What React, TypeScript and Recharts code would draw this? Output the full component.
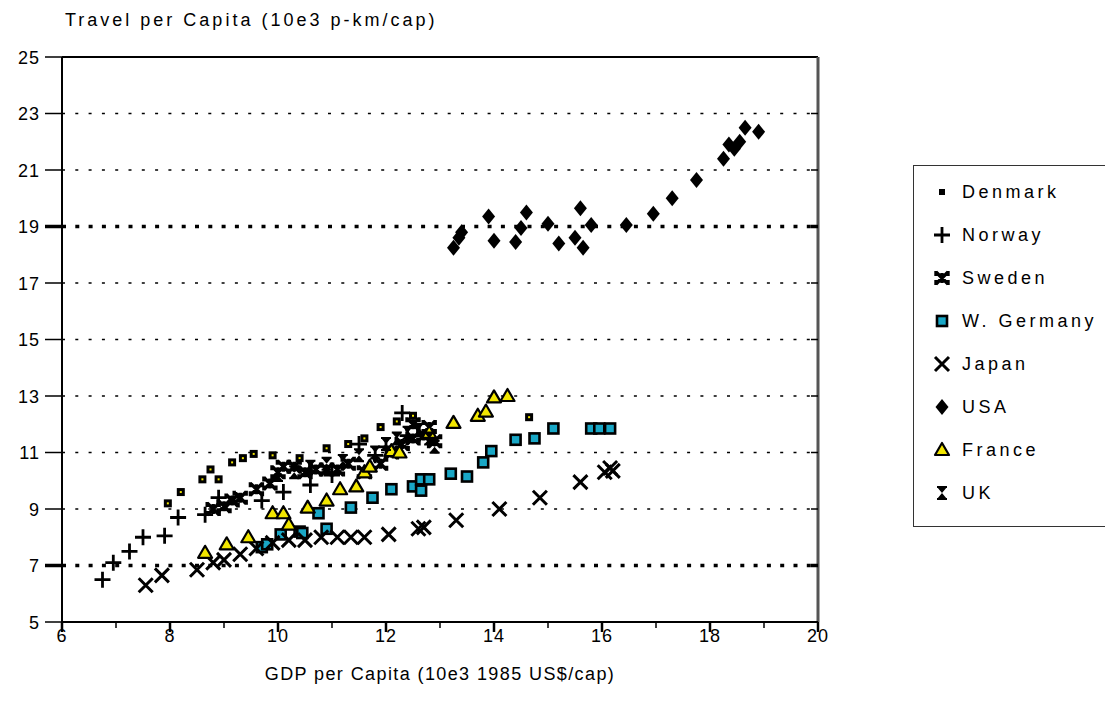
import React from 'react';
import { ScatterChart, Scatter, XAxis, YAxis, ReferenceLine } from 'recharts';

type P = { gdp: number; travel: number };
const mk = (pairs: number[][]): P[] => pairs.map(([gdp, travel]) => ({ gdp, travel }));

const denmark = mk([
  [7.96, 9.2], [8.2, 9.6], [8.6, 10.05], [8.75, 10.4], [8.9, 10.05], [9.15, 10.65], [9.35, 10.8],
  [9.55, 10.95], [9.9, 10.9], [10.4, 10.8], [10.9, 11.15], [11.3, 11.3], [11.6, 11.5], [11.9, 11.9],
  [12.2, 12.1], [12.5, 12.3], [14.65, 12.25],
]);
const norway = mk([
  [6.75, 6.5], [6.95, 7.1], [7.25, 7.5], [7.5, 8.0], [7.9, 8.05], [8.15, 8.7], [8.65, 8.8], [8.9, 9.4],
  [9.7, 9.3], [10.1, 9.6], [10.6, 9.85], [11.0, 10.2], [11.5, 11.3], [11.8, 10.9], [12.0, 11.2],
  [12.3, 12.4], [12.4, 11.6],
]);
const sweden = mk([
  [8.8, 9.0], [9.0, 9.1], [9.15, 9.3], [9.3, 9.4], [9.6, 9.7], [9.85, 9.9], [10.0, 10.3], [10.1, 10.5],
  [10.3, 10.5], [10.5, 10.3], [10.7, 10.4], [10.9, 10.4], [11.1, 10.4], [11.3, 10.6], [11.6, 10.3],
  [11.9, 10.6], [12.1, 11.0], [12.3, 11.3], [12.5, 11.5], [12.7, 11.6], [12.9, 11.4], [12.8, 11.9], [12.5, 12.0],
]);
const wGermany = mk([
  [9.7, 7.65], [9.8, 7.75], [10.05, 8.1], [10.4, 8.2], [10.45, 8.15], [10.75, 8.85], [10.9, 8.3],
  [11.35, 9.05], [11.75, 9.4], [12.1, 9.7], [12.5, 9.8], [12.65, 10.05], [12.8, 10.05], [12.65, 9.65],
  [13.2, 10.25], [13.5, 10.15], [13.8, 10.65], [13.95, 11.05], [14.4, 11.45], [14.75, 11.5],
  [15.1, 11.85], [15.8, 11.85], [15.95, 11.85], [16.15, 11.85],
]);
const japan = mk([
  [7.55, 6.3], [7.85, 6.65], [8.5, 6.85], [8.8, 7.1], [9.0, 7.2], [9.3, 7.4], [9.6, 7.6], [9.9, 7.8],
  [10.2, 7.9], [10.5, 7.9], [10.8, 8.0], [11.1, 8.0], [11.35, 8.0], [11.6, 8.0], [12.05, 8.1],
  [12.6, 8.3], [12.7, 8.35], [13.3, 8.6], [14.1, 9.0], [14.85, 9.4], [15.6, 9.95], [16.05, 10.3],
  [16.15, 10.45], [16.2, 10.35],
]);
const usa = mk([
  [13.25, 18.25], [13.35, 18.6], [13.4, 18.8], [13.9, 19.35], [14.0, 18.5], [14.4, 18.45], [14.5, 18.95],
  [14.6, 19.5], [15.0, 19.1], [15.2, 18.4], [15.5, 18.6], [15.6, 19.65], [15.65, 18.25], [15.8, 19.05],
  [16.45, 19.05], [16.95, 19.45], [17.3, 20.0], [17.75, 20.65], [18.25, 21.4], [18.35, 21.9],
  [18.45, 21.75], [18.55, 22.0], [18.65, 22.5], [18.9, 22.35],
]);
const france = mk([
  [8.65, 7.45], [9.05, 7.75], [9.45, 8.0], [9.9, 8.85], [10.1, 8.85], [10.2, 8.45], [10.55, 9.05],
  [10.9, 9.3], [11.15, 9.7], [11.45, 9.8], [11.6, 10.3], [11.7, 10.5], [12.1, 11.05], [12.25, 11.0],
  [12.8, 11.7], [13.25, 12.05], [13.7, 12.3], [13.85, 12.45], [14.0, 12.95], [14.25, 13.0],
]);
const uk = mk([
  [10.0, 10.2], [10.3, 10.3], [10.6, 10.5], [10.9, 10.6], [11.2, 10.7], [11.5, 10.9], [11.8, 11.0],
  [12.0, 11.3], [12.2, 11.5], [12.4, 11.7], [12.6, 11.8], [12.8, 11.5], [12.9, 11.2],
]);

const xTicks = [6, 7, 8, 9, 10, 11, 12, 13, 14, 15, 16, 17, 18, 19, 20];
const yTicks = [5, 7, 9, 11, 13, 15, 17, 19, 21, 23, 25];
const gridValues = [7, 9, 11, 13, 15, 17, 19, 21, 23];
const boldGrid = [7, 19];

const FONT = '"Liberation Sans", Arial, Helvetica, sans-serif';
const CYAN = '#19a7c6';
const YELLOW = '#f2e600';
const PLOT_W = 756;

const DenmarkShape = ({ cx, cy, legend }: any) =>
  legend ? (
    <rect x={cx - 3} y={cy - 3} width={6} height={6} fill="#000" />
  ) : (
    <g>
      <rect x={cx - 4} y={cy - 4} width={8} height={8} fill="#000" />
      <rect x={cx - 1} y={cy - 1} width={2} height={2} fill={YELLOW} />
    </g>
  );
const NorwayShape = ({ cx, cy }: any) => (
  <path d={`M${cx - 8},${cy}H${cx + 8}M${cx},${cy - 8}V${cy + 8}`} stroke="#000" strokeWidth={2.8} fill="none" />
);
const SwedenShape = ({ cx, cy }: any) => (
  <path
    d={`M${cx - 6},${cy - 6}L${cx + 6},${cy + 6}M${cx + 6},${cy - 6}L${cx - 6},${cy + 6}M${cx},${cy - 5}V${cy + 5}M${cx - 6},${cy - 7}V${cy - 2}M${cx + 6},${cy - 7}V${cy - 2}M${cx - 6},${cy + 7}V${cy + 2}M${cx + 6},${cy + 7}V${cy + 2}`}
    stroke="#000" strokeWidth={3.4} fill="none"
  />
);
const GermanyShape = ({ cx, cy }: any) => (
  <rect x={cx - 5} y={cy - 5} width={10} height={10} fill={CYAN} stroke="#000" strokeWidth={2.6} />
);
const JapanShape = ({ cx, cy }: any) => (
  <path d={`M${cx - 7},${cy - 7}L${cx + 7},${cy + 7}M${cx + 7},${cy - 7}L${cx - 7},${cy + 7}`} stroke="#000" strokeWidth={3} fill="none" />
);
const UsaShape = ({ cx, cy }: any) => (
  <polygon points={`${cx},${cy - 8} ${cx + 6.5},${cy} ${cx},${cy + 8} ${cx - 6.5},${cy}`} fill="#000" />
);
const FranceShape = ({ cx, cy }: any) => (
  <polygon points={`${cx},${cy - 7} ${cx + 7},${cy + 5} ${cx - 7},${cy + 5}`} fill={YELLOW} stroke="#000" strokeWidth={2.2} strokeLinejoin="round" />
);
const UkShape = ({ cx, cy }: any) => (
  <g>
    <polygon points={`${cx - 5},${cy - 6} ${cx + 5},${cy - 6} ${cx},${cy} ${cx + 5},${cy + 6} ${cx - 5},${cy + 6} ${cx},${cy}`} fill="#000" />
    <path d={`M${cx - 5},${cy - 6}H${cx + 5}M${cx - 5},${cy + 6}H${cx + 5}`} stroke="#000" strokeWidth={2} />
  </g>
);

const series = [
  { name: 'Denmark', data: denmark, Shape: DenmarkShape },
  { name: 'Norway', data: norway, Shape: NorwayShape },
  { name: 'Sweden', data: sweden, Shape: SwedenShape },
  { name: 'W. Germany', data: wGermany, Shape: GermanyShape },
  { name: 'Japan', data: japan, Shape: JapanShape },
  { name: 'USA', data: usa, Shape: UsaShape },
  { name: 'France', data: france, Shape: FranceShape },
  { name: 'UK', data: uk, Shape: UkShape },
];

const YTick = ({ x, y, payload }: any) => {
  const v = payload.value;
  const bold = boldGrid.includes(v);
  return (
    <g>
      <line x1={x - 17} x2={x} y1={y} y2={y} stroke="#000" strokeWidth={bold ? 3.5 : 1.5} />
      {v !== 5 && v !== 25 && (
        <line x1={x + PLOT_W - 7} x2={x + PLOT_W} y1={y} y2={y} stroke="#000" strokeWidth={bold ? 3.5 : 1.5} />
      )}
      <text x={x - 22} y={y + 6.5} textAnchor="end" fontFamily={FONT} fontSize={18} letterSpacing={1} fill="#000">
        {v}
      </text>
    </g>
  );
};

const XTick = ({ x, y, payload }: any) => {
  const v = payload.value;
  const major = v % 2 === 0;
  return (
    <g>
      <line x1={x} x2={x} y1={y} y2={y + (major ? 10 : 6)} stroke="#000" strokeWidth={major ? 2.5 : 1.5} />
      {major && (
        <text x={x} y={y + 20} textAnchor="middle" fontFamily={FONT} fontSize={18} letterSpacing={1} fill="#000">
          {v}
        </text>
      )}
    </g>
  );
};

const LegendBox = () => (
  <div
    style={{
      position: 'absolute', left: 905, top: 157, width: 199, height: 362,
      border: '1.5px solid #333', boxSizing: 'border-box', background: '#fff',
      fontFamily: FONT, fontSize: 18,
    }}
  >
    {series.map(({ name, Shape }, i) => (
      <div key={name} style={{ position: 'absolute', left: 17, top: 15 + i * 43, height: 22, display: 'flex', alignItems: 'center' }}>
        <svg width={22} height={22} style={{ display: 'block' }}>
          <Shape cx={11} cy={11} legend />
        </svg>
        <span style={{ marginLeft: 9, letterSpacing: 3.5 }}>{name}</span>
      </div>
    ))}
  </div>
);

export default function App() {
  return (
    <div style={{ position: 'relative', width: 1105, height: 700, background: '#fff' }}>
      <ScatterChart width={1100} height={700} margin={{ top: 49, right: 290, left: 0, bottom: 46 }}>
        {gridValues.map((v) => (
          <ReferenceLine
            key={v}
            y={v}
            stroke="#000"
            strokeWidth={boldGrid.includes(v) ? 3.5 : 1.5}
            strokeDasharray={boldGrid.includes(v) ? '4 9.3' : '3 10.3'}
          />
        ))}
        <ReferenceLine y={25} stroke="#000" strokeWidth={2} />
        <ReferenceLine x={20} stroke="#555" strokeWidth={3} />
        <XAxis
          type="number"
          dataKey="gdp"
          domain={[6, 20]}
          ticks={xTicks}
          allowDataOverflow
          height={40}
          tickLine={false}
          tickSize={0}
          tickMargin={0}
          interval={0}
          tick={<XTick />}
          axisLine={{ stroke: '#000', strokeWidth: 2 }}
        />
        <YAxis
          type="number"
          dataKey="travel"
          domain={[5, 25]}
          ticks={yTicks}
          allowDataOverflow
          width={54}
          tickLine={false}
          tickSize={0}
          tickMargin={0}
          interval={0}
          tick={<YTick />}
          axisLine={{ stroke: '#000', strokeWidth: 2 }}
        />
        {series.map(({ name, data, Shape }) => (
          <Scatter
            key={name}
            name={name}
            data={data}
            isAnimationActive={false}
            shape={(p: any) => <Shape cx={p.cx} cy={p.cy} />}
          />
        ))}
      </ScatterChart>
      <div style={{ position: 'absolute', left: 57, top: 2, fontFamily: FONT, fontSize: 18, letterSpacing: 3, whiteSpace: 'nowrap' }}>
        Travel per Capita (10e3 p-km/cap)
      </div>
      <div style={{ position: 'absolute', left: 232, width: 400, top: 656, textAlign: 'center', fontFamily: FONT, fontSize: 18, letterSpacing: 1.4, whiteSpace: 'nowrap' }}>
        GDP per Capita (10e3 1985 US$/cap)
      </div>
      <LegendBox />
    </div>
  );
}
